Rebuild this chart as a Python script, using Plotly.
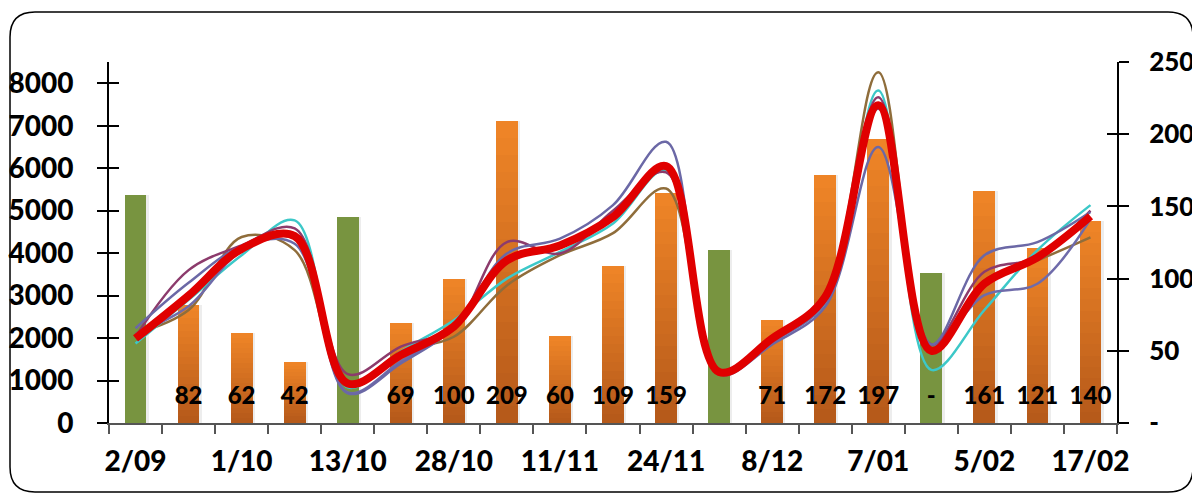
import plotly.graph_objects as go

# ---------------- data ----------------
tick_labels = ["2/09", "1/10", "13/10", "28/10", "11/11", "24/11", "8/12", "7/01", "5/02", "17/02"]
n_points = 19

orange_values = [None, 82, 62, 42, None, 69, 100, 209, 60, 109, 159, None, 71, 172, 197, None, 161, 121, 140]
green_values = [158, None, None, None, 143, None, None, None, None, None, None, 120, None, None, None, 104, None, None, None]
bar_labels = ["", "82", "62", "42", "", "69", "100", "209", "60", "109", "159", "", "71", "172", "197", "-", "161", "121", "140"]

red_line = [1990, 3000, 4100, 4400, 930, 1600, 2270, 3830, 4180, 4850, 6050, 1200, 1990, 2970, 7480, 1700, 3280, 3900, 4870]
cyan_line = [1870, 2900, 3950, 4770, 840, 1680, 2420, 3400, 4030, 4700, 5950, 1200, 1950, 2830, 7830, 1250, 2660, 4070, 5130]
maroon_line = [2030, 3600, 4180, 4580, 1150, 1800, 2250, 4260, 3990, 5000, 5900, 1250, 2000, 3000, 7670, 1850, 3560, 3900, 5000]
slate_line = [2230, 3300, 4150, 4220, 700, 1400, 2250, 3990, 4340, 5130, 6620, 1150, 1850, 2740, 6500, 1850, 3950, 4260, 4970]
slate2_line = [2100, 2750, 4050, 4350, 720, 1450, 2250, 3800, 4200, 4850, 6000, 1200, 1900, 2850, 7400, 1850, 3010, 3280, 4800]
brown_line = [2110, 2660, 4380, 4070, 870, 1680, 2030, 3240, 3950, 4470, 5520, 1200, 2000, 3050, 8260, 1800, 3350, 3830, 4370]

left_ticks = [0, 1000, 2000, 3000, 4000, 5000, 6000, 7000, 8000]
right_ticks = [0, 50, 100, 150, 200, 250]
right_ticktext = ["-", "50", "100", "150", "200", "250"]

# ---------------- style ----------------
OFF = 8  # page body margin of the browser
W, H = 1200 - OFF, 495 - OFF
ML, MT = 109 - OFF, 62 - OFF
PW, PH = 1008, 361
MR, MB = W - ML - PW, H - MT - PH
FONT = "Lato"
BAR_W = 0.41
ORANGE_TOP = (238, 132, 39)
ORANGE_BOT = (182, 90, 26)
GREEN = "#789440"
N_GRAD = 18
LABEL_Y = 17.5

x = list(range(n_points))
fig = go.Figure()

# soft shadows
for vals in (orange_values, green_values):
    fig.add_trace(go.Bar(x=x, y=vals, width=BAR_W, offset=-BAR_W / 2 + 0.045,
                         marker=dict(color="rgba(0,0,0,0.07)", line=dict(width=0)),
                         yaxis="y", hoverinfo="skip", showlegend=False))

# green bars
fig.add_trace(go.Bar(x=x, y=green_values, width=BAR_W, marker=dict(color=GREEN, line=dict(width=0)),
                     yaxis="y", showlegend=False))

# orange bars with vertical gradient (overlaid bands)
for k in range(N_GRAD):
    t = k / (N_GRAD - 1)
    c = tuple(round(ORANGE_TOP[i] + (ORANGE_BOT[i] - ORANGE_TOP[i]) * t) for i in range(3))
    frac = (N_GRAD - k) / N_GRAD
    yv = [v * frac if v is not None else None for v in orange_values]
    fig.add_trace(go.Bar(x=x, y=yv, width=BAR_W,
                         marker=dict(color="rgb(%d,%d,%d)" % c, line=dict(width=0)),
                         yaxis="y", hoverinfo="skip", showlegend=False))

# bar labels
fig.add_trace(go.Scatter(x=x, y=[LABEL_Y] * n_points, mode="text", text=bar_labels,
                         textfont=dict(family=FONT, size=24, color="black", weight=900),
                         yaxis="y", hoverinfo="skip", showlegend=False))

# lines (left axis)
lines = [
    (brown_line, "#8F6D3B", 2.5),
    (cyan_line, "#3CC8C8", 2.5),
    (slate2_line, "#6F6BAA", 2.5),
    (maroon_line, "#8C3B6C", 2.5),
    (slate_line, "#6B68A6", 2.5),
    (red_line, "#E00000", 8),
]
for vals, col, w in lines:
    fig.add_trace(go.Scatter(x=x, y=vals, mode="lines",
                             line=dict(color=col, width=w, shape="spline", smoothing=1.0),
                             yaxis="y2", showlegend=False))

# dummy traces for crossing tick marks
fig.add_trace(go.Scatter(x=[None], y=[None], yaxis="y3", showlegend=False, hoverinfo="skip"))
fig.add_trace(go.Scatter(x=[None], y=[None], yaxis="y4", showlegend=False, hoverinfo="skip"))

tickfont = dict(family=FONT, size=28, color="black", weight=900)
tickfont_right = dict(family=FONT, size=26, color="black", weight=900)

fig.update_layout(
    template="none",
    width=W, height=H,
    margin=dict(l=ML, r=MR, t=MT, b=MB, autoexpand=False),
    paper_bgcolor="white", plot_bgcolor="white",
    barmode="overlay", bargap=0,
    showlegend=False,
    xaxis=dict(range=[-0.5, n_points - 0.5], tickvals=list(range(0, n_points, 2)), ticktext=tick_labels,
               ticks="", showgrid=False, zeroline=False, showline=True, linecolor="#555555", linewidth=2,
               tickfont=tickfont, ticklabelstandoff=12, automargin=False,
               minor=dict(tick0=-0.5, dtick=1, ticks="outside", ticklen=9, tickwidth=1.5,
                          tickcolor="#555555", showgrid=False)),
    yaxis=dict(side="right", range=[0, 250], tickvals=right_ticks, ticktext=right_ticktext,
               ticks="outside", ticklen=10, tickwidth=2, tickcolor="black", automargin=False,
               showline=True, linecolor="black", linewidth=2, showgrid=False, zeroline=False,
               tickfont=tickfont_right, ticklabelstandoff=15),
    yaxis2=dict(overlaying="y", side="left", range=[0, 8500], tickvals=left_ticks,
                ticks="outside", ticklen=10, tickwidth=2, tickcolor="black", automargin=False,
                showline=True, linecolor="black", linewidth=2, showgrid=False, zeroline=False,
                tickfont=tickfont, ticklabelstandoff=18),
    yaxis3=dict(overlaying="y", side="left", range=[0, 8500], tickvals=left_ticks,
                ticks="inside", ticklen=10, tickwidth=2, tickcolor="black", automargin=False,
                showticklabels=False, showline=False, showgrid=False, zeroline=False),
    yaxis4=dict(overlaying="y", side="right", range=[0, 250], tickvals=right_ticks,
                ticks="inside", ticklen=10, tickwidth=2, tickcolor="black", automargin=False,
                showticklabels=False, showline=False, showgrid=False, zeroline=False),
)

# rounded outer border (pixel positions in the screenshot, converted to paper units)
def P(px, py):
    px, py = px - OFF, py - OFF
    return "%.5f,%.5f" % ((px - ML) / PW, (MT + PH - py) / PH)
L, R, T, B, r = 10, 1193, 12, 492, 25
path = ("M " + P(L + r, T) + " L " + P(R - r, T) + " Q " + P(R, T) + " " + P(R, T + r) +
        " L " + P(R, B - r) + " Q " + P(R, B) + " " + P(R - r, B) +
        " L " + P(L + r, B) + " Q " + P(L, B) + " " + P(L, B - r) +
        " L " + P(L, T + r) + " Q " + P(L, T) + " " + P(L + r, T) + " Z")
fig.add_shape(type="path", path=path, xref="paper", yref="paper",
              line=dict(color="black", width=1.5), fillcolor="rgba(0,0,0,0)", layer="below")

fig.write_html("out.html")
